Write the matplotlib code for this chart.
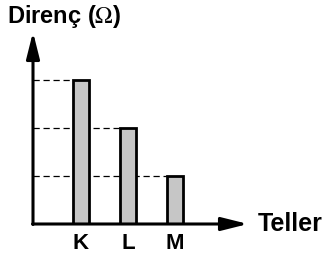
import matplotlib
matplotlib.use('Agg')

import matplotlib.pyplot as plt

categories = ['K', 'L', 'M']
resistance = [3, 2, 1]
x_label = 'Teller'
y_label = r'Direnç ($\Omega$)'

plt.rcParams['font.family'] = ['Liberation Sans', 'DejaVu Sans']
plt.rcParams['mathtext.fontset'] = 'stix'

W, H = 323, 262
fig = plt.figure(figsize=(W / 100, H / 100), dpi=100)

# axes box in pixels: origin at (33, 224), top arrow at y=32, right arrow at x=248
left, right, bottom, top = 33, 248, 224, 32
ax = fig.add_axes([left / W, (H - bottom) / H, (right - left) / W, (bottom - top) / H])

pos = list(range(len(categories)))
x0, x1 = -1.02, 3.55
y0, y1 = 0, 4.0
bw = 0.34

ax.set_xlim(x0, x1)
ax.set_ylim(y0, y1)
for s in ax.spines.values():
    s.set_visible(False)
ax.set_xticks([])
ax.set_yticks([])

# dashed guide lines from y axis to bar edges
ax.hlines(resistance, x0, [p - bw / 2 for p in pos], colors='black',
          linestyles=(0, (5, 3)), linewidth=0.9, zorder=1)

ax.bar(pos, resistance, width=bw, color='#c6c6c6', edgecolor='black',
       linewidth=2.0, zorder=2)

# axis arrows
arrow = dict(arrowstyle='-|>,head_length=1.6,head_width=0.4', color='black',
             lw=2.2, mutation_scale=10, shrinkA=0, shrinkB=0)
ax.annotate('', xy=(x1, 0), xytext=(x0 - 0.01, 0), arrowprops=arrow,
            annotation_clip=False)
ax.annotate('', xy=(x0, y1), xytext=(x0, -0.01), arrowprops=arrow,
            annotation_clip=False)

for p, c in zip(pos, categories):
    ax.text(p, -0.19, c, ha='center', va='top', fontsize=16, fontweight='bold')

ax.text(x1 + 0.2, 0, x_label, ha='left', va='center', fontsize=18,
        fontweight='bold')
fig.text(7 / W, 1 - 16 / H, y_label, ha='left', va='center', fontsize=17,
         fontweight='bold')

fig.savefig('out.png', dpi=100)
